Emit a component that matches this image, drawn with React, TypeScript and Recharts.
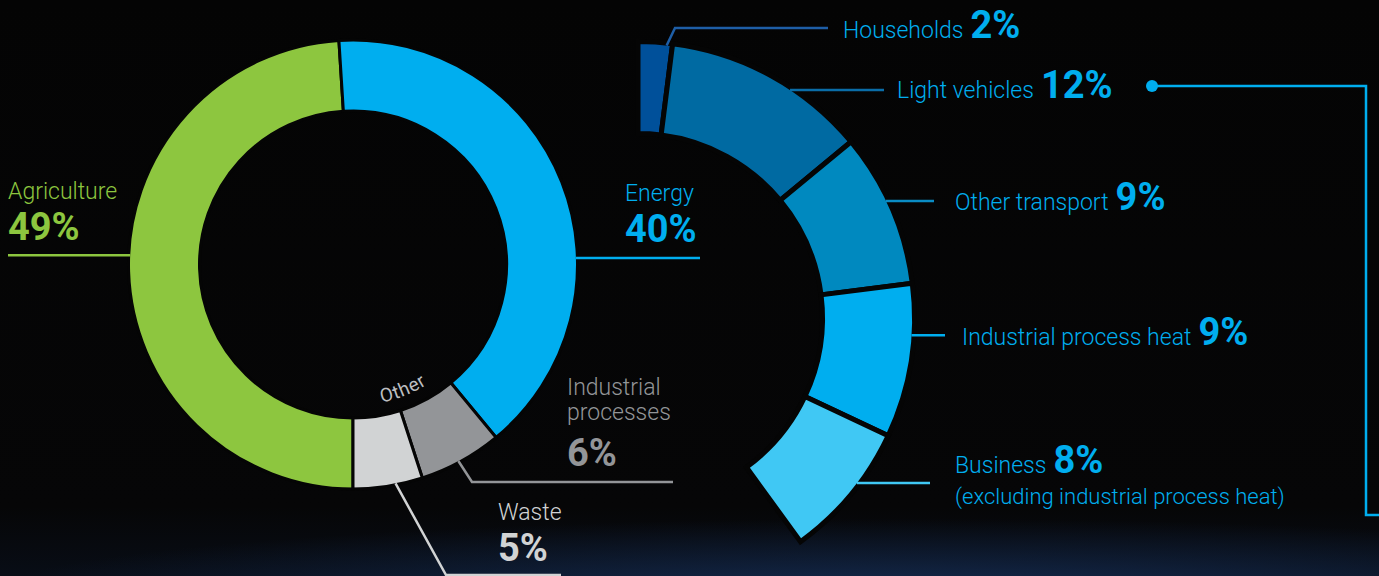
import { PieChart, Pie, Cell } from 'recharts';

// NZ-style emissions breakdown: all sectors, then the energy slice split out
const sectorNames = ['Agriculture', 'Energy', 'Industrial processes', 'Waste'];
const sectorShares = [49, 40, 6, 5];
const sectorColors = ['#8DC63F', '#00AEEF', '#939598', '#D1D3D4'];

const energyNames = ['Households', 'Light vehicles', 'Other transport', 'Industrial process heat', 'Business'];
const energyShares = [2, 12, 9, 9, 8];
const energyColors = ['#00509A', '#006AA2', '#0089BF', '#00AEEF', '#40C8F4'];
const energyNotes = ['', '', '', '', '(excluding industrial process heat)'];

const W = 1379;
const H = 576;
const BG = '#050505';
const FONT = 'Roboto, "Liberation Sans", Arial, sans-serif';

const sectorData = sectorNames.map((name, i) => ({ name, value: sectorShares[i] }));
const energyData = energyNames.map((name, i) => ({ name, value: energyShares[i] }));

const totalShare = sectorShares.reduce((a, b) => a + b, 0);
const energySweep = (360 * sectorShares[1]) / totalShare;

// label placement (not data)
const leftLayout = [
  { anchor: 177.6, leader: [[8, null]], x: 8, lineYs: [199], valueY: 240 },
  { anchor: 1.7, leader: [[700, null]], x: 625, lineYs: [201], valueY: 242 },
  { anchor: -61.8, leader: [[472, 482], [673, 482]], x: 567, lineYs: [395, 420], valueY: 466 },
  { anchor: -79, leader: [[446, 575], [561, 575]], x: 498, lineYs: [520], valueY: 561 },
];

const rightLayout = [
  { anchor: 84, leader: [[675, 28], [828, 28]], x: 843, y: 38, line: '#1E5EA6' },
  { anchor: 56.3, leader: [[884, null]], x: 897, y: 98, line: '#0A6DA8' },
  { anchor: 25.3, leader: [[934, null]], x: 955, y: 210, line: '#0A8CC4' },
  { anchor: -3.6, leader: [[945, null]], x: 962, y: 345, line: '#00AEEF' },
  { anchor: -37, leader: [[930, null]], x: 955, y: 473, line: '#40C8F4' },
];

function polar(cx: number, cy: number, r: number, deg: number) {
  const a = (deg * Math.PI) / 180;
  return [cx + r * Math.cos(a), cy - r * Math.sin(a)];
}

function leaderPath(start: number[], pts: (number | null)[][]) {
  let d = `M${start[0]},${start[1]}`;
  let py = start[1];
  pts.forEach(([x, y]) => {
    const yy = y == null ? py : y;
    d += ` L${x},${yy}`;
    py = yy;
  });
  return d;
}

function LeftLabel(props: any) {
  const { cx, cy, index } = props;
  const R = 223;
  const lay = leftLayout[index];
  const color = sectorColors[index];
  const textColor = index === 2 ? '#939598' : color;
  const start = polar(cx, cy, R, lay.anchor);
  const name = sectorNames[index];
  const parts = lay.lineYs.length > 1 ? name.split(' ') : [name];
  return (
    <g>
      <path d={leaderPath(start, lay.leader)} stroke={color} strokeWidth={2.5} fill="none" />
      {parts.map((p, i) => (
        <text key={p} x={lay.x} y={lay.lineYs[i]} fill={textColor} fontFamily={FONT} fontWeight={300} fontSize={23}>
          {p}
        </text>
      ))}
      <text x={lay.x} y={lay.valueY} fill={textColor} fontFamily={FONT} fontWeight={700} fontSize={38}>
        {sectorShares[index]}%
      </text>
      {index === 2 && (
        <g>
          <defs>
            <path
              id="otherArc"
              d={`M${polar(cx, cy, 141, -100).join(',')} A141,141 0 0,0 ${polar(cx, cy, 141, -40).join(',')}`}
              fill="none"
            />
          </defs>
          <text fill="#BCBEC0" fontFamily={FONT} fontSize={19} fontWeight={400} letterSpacing={0.6}>
            <textPath href="#otherArc" startOffset="53%" textAnchor="middle">
              Other
            </textPath>
          </text>
        </g>
      )}
    </g>
  );
}

function RightLabel(props: any) {
  const { cx, cy, index } = props;
  const R = 274;
  const lay = rightLayout[index];
  const start = polar(cx, cy, R, lay.anchor);
  return (
    <g>
      <path d={leaderPath(start, lay.leader)} stroke={lay.line} strokeWidth={2.5} fill="none" />
      <text x={lay.x} y={lay.y} fill="#00AEEF" fontFamily={FONT}>
        <tspan fontWeight={300} fontSize={23}>
          {energyNames[index]}
        </tspan>
        <tspan dx={7} fontWeight={700} fontSize={38}>
          {energyShares[index]}%
        </tspan>
      </text>
      {energyNotes[index] && (
        <text x={lay.x} y={lay.y + 31} fill="#00AEEF" fontFamily={FONT} fontWeight={300} fontSize={22}>
          {energyNotes[index]}
        </text>
      )}
      {index === 1 && (
        <g>
          <circle cx={1152} cy={86} r={6} fill="#00AEEF" />
          <path d="M1152,86 L1366,86 L1366,515 L1379,515" stroke="#00AEEF" strokeWidth={2.5} fill="none" />
        </g>
      )}
    </g>
  );
}

export default function App() {
  return (
    <div
      style={{
        position: 'absolute',
        left: 0,
        top: 0,
        width: W,
        height: H,
        overflow: 'hidden',
        background: `radial-gradient(ellipse 68% 14% at 66% 104%, rgba(24,52,98,0.8), rgba(5,5,5,0) 100%), linear-gradient(to bottom, #040404 0%, #060607 88%, #080d16 100%)`,
      }}
    >
      <PieChart width={W} height={H} margin={{ top: 0, right: 0, bottom: 0, left: 0 }}>
        <Pie
          data={sectorData}
          dataKey="value"
          nameKey="name"
          cx={353}
          cy={264.5}
          outerRadius={224.5}
          innerRadius={153.5}
          startAngle={-90}
          endAngle={-450}
          stroke={BG}
          strokeWidth={3}
          label={LeftLabel}
          labelLine={false}
          isAnimationActive={false}
        >
          {sectorData.map((d, i) => (
            <Cell key={d.name} fill={sectorColors[i]} />
          ))}
        </Pie>
        <Pie
          data={energyData}
          dataKey="value"
          nameKey="name"
          cx={638}
          cy={318}
          outerRadius={276.5}
          innerRadius={184.5}
          startAngle={90}
          endAngle={90 - energySweep}
          stroke={BG}
          strokeWidth={5}
          label={RightLabel}
          labelLine={false}
          isAnimationActive={false}
        >
          {energyData.map((d, i) => (
            <Cell key={d.name} fill={energyColors[i]} />
          ))}
        </Pie>
      </PieChart>
    </div>
  );
}
